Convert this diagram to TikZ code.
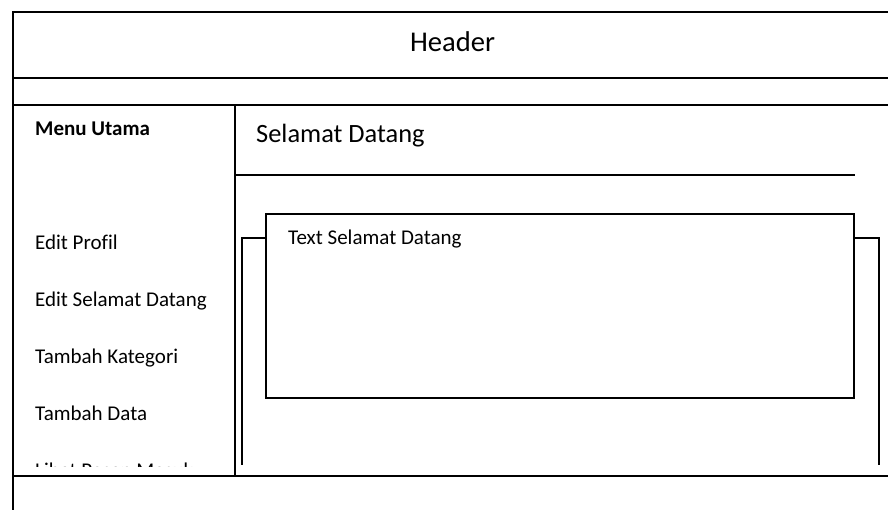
\documentclass[tikz,border=0pt]{standalone}
\usepackage{fontspec}
\setmainfont[Ligatures=NoCommon]{Carlito}
\begin{document}
\begin{tikzpicture}[x=1pt,y=-1pt,
  frame/.style={draw=black,line width=1.4pt},
  label/.style={inner sep=0pt,anchor=base west,font=\fontsize{21}{24}\selectfont},
  title/.style={inner sep=0pt,anchor=base west,font=\fontsize{26.4}{30}\selectfont}]
\useasboundingbox (0,0) rectangle (888,510);

% page frame and horizontal bands
\draw[frame] (888,12) -- (13,12) -- (13,510);
\draw[frame] (13,78) -- (888,78);
\draw[frame] (13,105) -- (888,105);
\draw[frame] (13,476) -- (888,476);

% side menu divider
\draw[frame] (235,105) -- (235,476);

% content title underline
\draw[frame] (235,175) -- (855,175);

% welcome text box
\draw[frame] (266,214) rectangle (854,398);

% brackets around the text box
\draw[frame] (266,238) -- (242,238) -- (242,465);
\draw[frame] (854,238) -- (879,238) -- (879,465);

% texts
\node[inner sep=0pt,anchor=base,font=\fontsize{28.6}{32}\selectfont] (header) at (452.5,52) {Header};
\node[label,font=\fontsize{21}{24}\selectfont\bfseries] (menu) at (35,136) {Menu Utama};
\node[title] (welcome) at (256,143) {Selamat Datang};
\node[label] (text) at (288,245) {Text Selamat Datang};
\node[label] (m1) at (35,250) {Edit Profil};
\node[label] (m2) at (35,307) {Edit Selamat Datang};
\node[label] (m3) at (35,363) {Tambah Kategori};
\node[label] (m4) at (35,420) {Tambah Data};
\begin{scope}
  \clip (20,400) rectangle (230,466);
  \node[label] (m5) at (35,477) {Lihat Pesan Masuk};
\end{scope}
\end{tikzpicture}
\end{document}
